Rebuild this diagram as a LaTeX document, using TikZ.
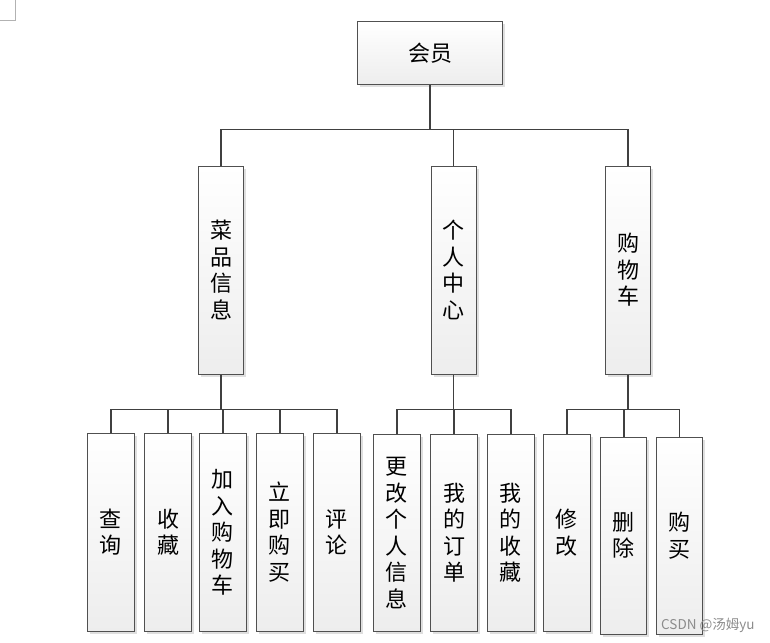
\documentclass[tikz,border=0pt]{standalone}
\usepackage{fontspec}
\newfontfamily\cjk{Noto Sans CJK SC}
\usetikzlibrary{shadows}
\definecolor{edgegray}{HTML}{404040}
\definecolor{boxgray}{HTML}{505050}
\tikzset{
  box/.style={draw=boxgray, line width=1pt, top color=white, bottom color=black!7,
    drop shadow={shadow xshift=2.5pt, shadow yshift=-2.5pt, fill=black!18, opacity=0.7},
    font=\cjk\fontsize{22}{26.5}\selectfont, align=center, inner sep=0pt},
  conn/.style={draw=edgegray, line width=1.8pt},
  cropmark/.style={draw=black!30, line width=0.8pt}
}
\begin{document}
\begin{tikzpicture}[x=1pt,y=-1pt]
\useasboundingbox (0,0) rectangle (770,642);
\coordinate (cm1) at (15,0);
\coordinate (cm2) at (15,20);
\coordinate (cm3) at (0,20);
\draw[cropmark] (cm1) -- (cm2) -- (cm3);
% root
\node[box, minimum width=145, minimum height=62] (root) at (430,53) {会员};
% middle level
\node[box, minimum width=45, minimum height=208] (m1) at (221,270) {菜\\品\\信\\息};
\node[box, minimum width=45, minimum height=208] (m2) at (453.5,270) {个\\人\\中\\心};
\node[box, minimum width=45, minimum height=208] (m3) at (628,270) {购\\物\\车};
% bottom level
\node[box, minimum width=47, minimum height=197.5] (a1) at (110.8,532.3) {查\\询};
\node[box, minimum width=47, minimum height=197.5] (a2) at (168,532.3) {收\\藏};
\node[box, minimum width=47, minimum height=197.5] (a3) at (222.8,532.3) {加\\入\\购\\物\\车};
\node[box, minimum width=47, minimum height=197.5] (a4) at (279.8,532.3) {立\\即\\购\\买};
\node[box, minimum width=47, minimum height=197.5] (a5) at (336.7,532.3) {评\\论};
\node[box, minimum width=47, minimum height=197.5] (b1) at (396.8,532.8) {更\\改\\个\\人\\信\\息};
\node[box, minimum width=47, minimum height=197.5] (b2) at (454,532.8) {我\\的\\订\\单};
\node[box, minimum width=47, minimum height=197.5] (b3) at (510.7,532.8) {我\\的\\收\\藏};
\node[box, minimum width=47, minimum height=197.5] (c1) at (566.8,532.8) {修\\改};
\node[box, minimum width=46, minimum height=197] (c2) at (623.7,535.5) {删\\除};
\node[box, minimum width=46, minimum height=197] (c3) at (679.5,535.5) {购\\买};
% buses
\coordinate (bus1) at (0,129.5);
\coordinate (bus2) at (0,409.5);
\draw[conn] (root.south) -- (root.south |- bus1);
\draw[conn] (m1.north) -- (m1.north |- bus1) -- (m3.north |- bus1) -- (m3.north);
\draw[conn] (m2.north) -- (m2.north |- bus1);
% group 1
\draw[conn] (m1.south) -- (m1.south |- bus2);
\draw[conn] (a1.north) -- (a1.north |- bus2) -- (a5.north |- bus2) -- (a5.north);
\foreach \n in {a2,a3,a4} \draw[conn] (\n.north) -- (\n.north |- bus2);
% group 2
\draw[conn] (m2.south) -- (m2.south |- bus2);
\draw[conn] (b1.north) -- (b1.north |- bus2) -- (b3.north |- bus2) -- (b3.north);
\draw[conn] (b2.north) -- (b2.north |- bus2);
% group 3
\draw[conn] (m3.south) -- (m3.south |- bus2);
\draw[conn] (c1.north) -- (c1.north |- bus2) -- (c3.north |- bus2) -- (c3.north);
\draw[conn] (c2.north) -- (c2.north |- bus2);
% watermark
\node[font=\cjk\fontsize{13.5}{15}\selectfont, text=black!45, anchor=west, inner sep=0pt] (wm) at (661,625) {CSDN @汤姆yu};
\end{tikzpicture}
\end{document}
